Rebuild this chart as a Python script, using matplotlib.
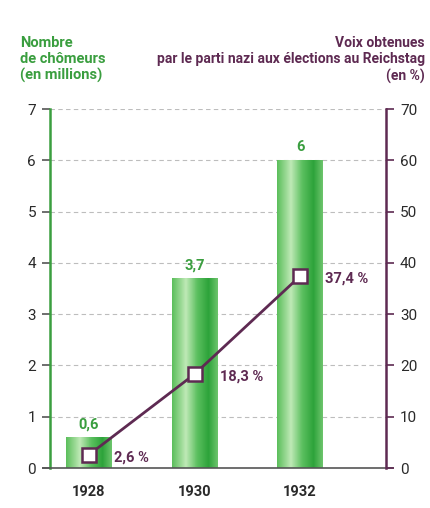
import numpy as np
import matplotlib.pyplot as plt
from matplotlib.colors import LinearSegmentedColormap

years = ['1928', '1930', '1932']
chomeurs = [0.6, 3.7, 6]
chomeurs_labels = ['0,6', '3,7', '6']
voix = [2.6, 18.3, 37.4]
voix_labels = ['2,6 %', '18,3 %', '37,4 %']

green = '#3a9e3f'
purple = '#5e2a52'
plt.rcParams['font.family'] = ['Roboto', 'DejaVu Sans']

fig = plt.figure(figsize=(4.3, 5.08), dpi=100)
ax = fig.add_axes([0.1163, 0.0787, 0.7814, 0.7067])
ax2 = ax.twinx()

pos = np.arange(len(years))
width = 0.43
cmap = LinearSegmentedColormap.from_list('bar', [
    (0.0, '#5cbf5c'), (0.3, '#bfe9b6'), (0.55, '#5cc060'),
    (0.8, '#2da33a'), (1.0, '#6cc46c')])
grad = np.linspace(0, 1, 64).reshape(1, -1)

for y in range(1, 8):
    ax.axhline(y, color='#bdbdbd', lw=0.8, ls=(0, (4, 3)), zorder=0)

bars = ax.bar(pos, chomeurs, width=width, color='none', zorder=2)
for b in bars:
    x0, w, h = b.get_x(), b.get_width(), b.get_height()
    ax.imshow(grad, cmap=cmap, aspect='auto', extent=(x0, x0 + w, 0, h), zorder=2)
ax.set_xlim(-0.37, 2.815)
ax.set_ylim(0, 7)

for p, v, t in zip(pos, chomeurs, chomeurs_labels):
    ax.text(p, v + 0.12, t, color=green, fontsize=10.5, fontweight='bold',
            ha='center', va='bottom')

ax2.set_ylim(0, 70)
ax2.plot(pos, voix, color=purple, lw=2, marker='s', markersize=10,
         markerfacecolor='white', markeredgecolor=purple, markeredgewidth=1.8, zorder=5)
for p, v, t in zip(pos, voix, voix_labels):
    ax2.annotate(t, (p, v), xytext=(18, -2), textcoords='offset points',
                 color=purple, fontsize=10.5, fontweight='bold', ha='left', va='center')

ax.set_xticks(pos)
ax.set_xticklabels(years, fontsize=10.5, fontweight='bold', color='#2a2a2a')
ax.tick_params(axis='x', length=0, pad=12)
ax.set_yticks(range(0, 8))
ax.tick_params(axis='y', length=6, width=1.2, color='#555555', labelsize=11,
               labelcolor='#2a2a2a', pad=4)
ax2.set_yticks(range(0, 80, 10))
ax2.tick_params(axis='y', length=6, width=1.2, color=purple, labelsize=11,
                labelcolor='#2a2a2a', pad=4)

for a in (ax, ax2):
    for s in a.spines.values():
        s.set_visible(False)
ax.spines['left'].set_visible(True)
ax.spines['left'].set_color(green)
ax.spines['left'].set_linewidth(1.8)
ax2.spines['right'].set_visible(True)
ax2.spines['right'].set_color(purple)
ax2.spines['right'].set_linewidth(1.8)
ax.axhline(0, xmin=-0.02, xmax=1.02, color='#555555', lw=1.2, clip_on=False, zorder=3)

fig.text(0.047, 0.93, 'Nombre\nde chômeurs\n(en millions)', color=green,
         fontsize=10.5, fontweight='bold', ha='left', va='top', linespacing=1.2)
fig.text(0.988, 0.93, 'Voix obtenues\npar le parti nazi aux élections au Reichstag\n(en %)',
         color=purple, fontsize=10, fontweight='bold', ha='right', va='top',
         multialignment='right', linespacing=1.25)

fig.savefig('out.png', dpi=100)
